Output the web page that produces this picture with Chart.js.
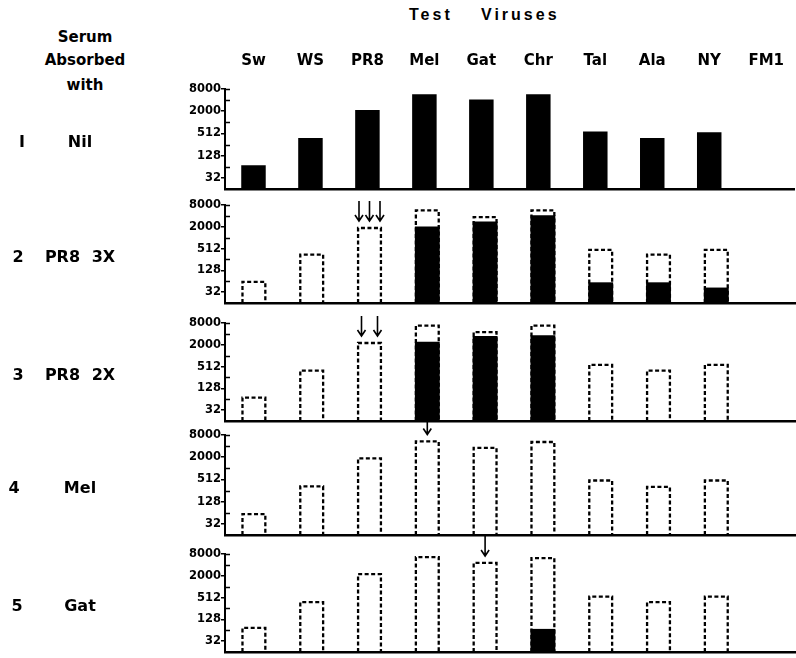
<!DOCTYPE html>
<html>
<head>
<meta charset="utf-8">
<script src="https://cdn.jsdelivr.net/npm/chart.js@4.4.0/dist/chart.umd.min.js"></script>
<style>
  html, body { margin: 0; padding: 0; background: #fff; overflow: hidden; }
  #page { position: relative; width: 796px; height: 658px; overflow: hidden;
          font-family: 'DejaVu Sans', sans-serif; font-weight: bold; color: #000; }
  canvas { position: absolute; left: 0; }
  .lbl { position: absolute; font-size: 15px; line-height: 18px; white-space: nowrap;
         transform: translate(-50%, -50%); }
  .row { font-size: 16px; }
  .head { position: absolute; top: 6px; font-family: 'Liberation Sans', sans-serif;
          font-size: 16px; letter-spacing: 3px; }
</style>
</head>
<body>
<div id="page">
  <div class="head" style="left:409px">Test</div>
  <div class="head" style="left:481px">Viruses</div>
  <div class="lbl" style="left:85px;top:37px">Serum</div>
  <div class="lbl" style="left:85px;top:60px">Absorbed</div>
  <div class="lbl" style="left:85px;top:85px">with</div>
</div>
<script>
// ---- data ----
const viruses = ['Sw', 'WS', 'PR8', 'Mel', 'Gat', 'Chr', 'Tal', 'Ala', 'NY', 'FM1'];
const rowNumbers = ['I', '2', '3', '4', '5'];
const absorbedWith = ['Nil', 'PR8 3X', 'PR8 2X', 'Mel', 'Gat'];
const yTickValues = [32, 128, 512, 2048, 8192];
const yTickLabels = ['32', '128', '512', '2000', '8000'];
const yMinorValues = [64, 256, 1024, 4096];

// dashed = titre before absorption, solid = titre left after absorption
const nilTitres   = [71, 385, 2220, 5950, 4240, 5950, 576, 385, 552, null];
const pr8x3Before = [62, 350, 1900, 5790, 3770, 5790, 474, 350, 474, null];
const pr8x3After  = [null, null, null, 2100, 2850, 4270, 60, 60, 43, null];
const pr8x2Before = [71, 396, 2300, 6940, 4610, 6940, 572, 396, 572, null];
const pr8x2After  = [null, null, null, 2490, 3590, 3740, null, null, null, null];
const melBefore   = [59, 335, 1910, 5480, 3690, 5290, 481, 322, 481, null];
const melAfter    = [null, null, null, null, null, null, null, null, null, null];
const gatBefore   = [75, 385, 2270, 6700, 4640, 6290, 545, 385, 545, null];
const gatAfter    = [null, null, null, null, null, 70, null, null, null, null];

const absorbingVirus = ['', 'PR8', 'PR8', 'Mel', 'Gat'];
const absorptions    = [0, 3, 2, 1, 1];

// ---- layout ----
const panelTop    = [89, 205, 323, 435, 554];
const panelBottom = [193, 307, 425, 539, 656];
const numX = [22, 18, 18, 14, 17];
const FONT = 'DejaVu Sans';

const panels = [
  { before: null,        after: nilTitres },
  { before: pr8x3Before, after: pr8x3After },
  { before: pr8x2Before, after: pr8x2After },
  { before: melBefore,   after: melAfter },
  { before: gatBefore,   after: gatAfter }
];

// dashed outlines, inner minor ticks and the arrows
const marksPlugin = {
  id: 'marks',
  afterDatasetsDraw(chart, args, opts) {
    const ctx = chart.ctx;
    const y = chart.scales.y;
    const left = chart.chartArea.left;
    ctx.save();
    ctx.strokeStyle = '#000';
    ctx.lineWidth = 1.5;
    ctx.beginPath();
    [...yMinorValues, yTickValues[yTickValues.length - 1]].forEach(v => {
      const py = Math.round(y.getPixelForValue(v)) + 0.5;
      ctx.moveTo(left, py);
      ctx.lineTo(left + 5, py);
    });
    ctx.stroke();

    chart.data.datasets.forEach((ds, di) => {
      if (!ds.dashed) return;
      const meta = chart.getDatasetMeta(di);
      ctx.lineWidth = 2.3;
      ctx.setLineDash([4, 2.5]);
      meta.data.forEach((bar, i) => {
        if (ds.data[i] == null) return;
        const half = bar.width / 2 - 1;
        ctx.beginPath();
        ctx.moveTo(bar.x - half, bar.base);
        ctx.lineTo(bar.x - half, bar.y);
        ctx.lineTo(bar.x + half, bar.y);
        ctx.lineTo(bar.x + half, bar.base);
        ctx.stroke();
      });
      ctx.setLineDash([]);

      const n = opts.count;
      if (!n) return;
      const bar = meta.data[chart.data.labels.indexOf(opts.virus)];
      const gap = n > 2 ? 10.5 : 16;
      ctx.lineWidth = 1.6;
      for (let k = 0; k < n; k++) {
        const ax = bar.x + (k - (n - 1) / 2) * gap;
        const tip = bar.y - 7, tail = tip - 20;
        ctx.beginPath();
        ctx.moveTo(ax, tail);
        ctx.lineTo(ax, tip);
        ctx.moveTo(ax - 4, tip - 6);
        ctx.lineTo(ax, tip);
        ctx.lineTo(ax + 4, tip - 6);
        ctx.stroke();
      }
    });
    ctx.restore();
  }
};

function makePanel(i) {
  const page = document.getElementById('page');
  const first = i === 0;
  const canvasTop = first ? 40 : panelTop[i] - 24;
  const canvas = document.createElement('canvas');
  canvas.width = 803;
  canvas.height = panelBottom[i] + 3 - canvasTop;
  canvas.style.top = canvasTop + 'px';
  page.appendChild(canvas);

  const datasets = [];
  if (panels[i].before) {
    datasets.push({ data: panels[i].before, dashed: true,
      backgroundColor: 'rgba(0,0,0,0)', borderWidth: 0 });
  }
  datasets.push({ data: panels[i].after, backgroundColor: '#000', borderWidth: 0 });

  const scales = {
    x: {
      offset: true,
      ticks: { display: false },
      grid: { display: false, drawTicks: false },
      border: { display: true, color: '#000', width: 2.5 },
      afterFit: s => { s.height = 0; }
    },
    y: {
      type: 'logarithmic',
      min: 16,
      max: 8192,
      afterBuildTicks: s => { s.ticks = yTickValues.map(v => ({ value: v })); },
      afterFit: s => { s.width = 225; },
      ticks: {
        autoSkip: false,
        padding: 0,
        color: '#000',
        font: { family: FONT, weight: 'bold', size: 11.5 },
        callback: v => yTickLabels[yTickValues.indexOf(v)] ?? ''
      },
      grid: { drawOnChartArea: false, drawTicks: true, tickLength: 4, color: '#000', lineWidth: 1.5 },
      border: { display: true, color: '#000', width: 2 }
    }
  };
  if (first) {
    scales.xTop = {
      type: 'category',
      position: 'top',
      labels: viruses,
      offset: true,
      grid: { display: false, drawTicks: false },
      border: { display: false },
      ticks: { autoSkip: false, maxRotation: 0, padding: 19, color: '#000',
               font: { family: FONT, weight: 'bold', size: 15 } },
      afterFit: s => { s.height = panelTop[0] - canvasTop; }
    };
  }

  new Chart(canvas, {
    type: 'bar',
    data: { labels: viruses, datasets },
    options: {
      responsive: false,
      animation: false,
      layout: { padding: { top: first ? 0 : 24, bottom: 3, left: 0, right: 0 } },
      datasets: { bar: { grouped: false, categoryPercentage: 1, barPercentage: 0.43 } },
      plugins: {
        legend: { display: false },
        tooltip: { enabled: false },
        marks: { virus: absorbingVirus[i], count: absorptions[i] }
      },
      scales
    },
    plugins: [marksPlugin]
  });

  const cy = (panelTop[i] + panelBottom[i]) / 2 + 1;
  const num = document.createElement('div');
  num.className = 'lbl row';
  num.style.left = numX[i] + 'px';
  num.style.top = cy + 'px';
  num.textContent = rowNumbers[i];
  page.appendChild(num);
  const name = document.createElement('div');
  name.className = 'lbl row';
  name.style.left = '80px';
  name.style.top = cy + 'px';
  name.style.wordSpacing = '6px';
  name.textContent = absorbedWith[i];
  page.appendChild(name);
}

panels.forEach((p, i) => makePanel(i));
</script>
</body>
</html>
